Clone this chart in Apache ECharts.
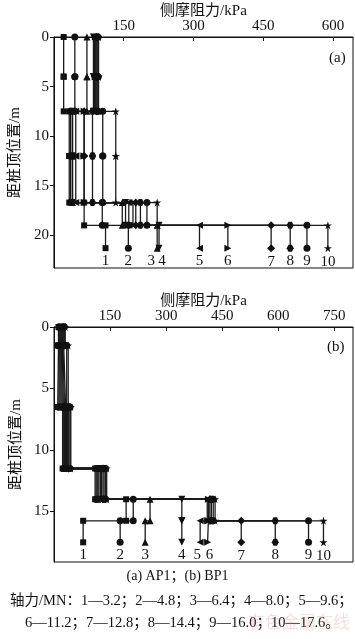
<!DOCTYPE html>
<html><head><meta charset="utf-8">
<script src="https://cdn.jsdelivr.net/npm/echarts@6/dist/echarts.min.js"></script>
<style>html,body{margin:0;padding:0;background:#fff}#c{width:355px;height:639px}</style>
</head><body><div id="c"></div>
<script>
// ---- data ----
const loadIds = ['1','2','3','4','5','6','7','8','9','10'];
const axialForceMN = ['3.2','4.8','6.4','8.0','9.6','11.2','12.8','14.4','16.0','17.6'];
const xTicksA = [150, 300, 450, 600];
const xTicksB = [150, 300, 450, 600, 750];
const yTicksA = [0, 5, 10, 15, 20];
const yTicksB = [0, 5, 10, 15];
// (a) AP1: section depths (m) and skin friction (kPa) per segment, loads 1..10
const depthA = [0, 4, 7.5, 12, 16.7, 19, 21.3];
const A_seg1 = [21, 45, 71, 85, 87, 89, 91, 93, 95, 96];
const A_seg2 = [21, 45, 71, 85, 87, 89, 91, 93, 95, 96];
const A_seg3 = [33, 36, 40, 40, 47, 65, 65, 83, 105, 133];
const A_seg4 = [33, 36, 40, 40, 47, 65, 65, 83, 105, 133];
const A_seg5 = [65, 104, 147, 154, 161, 170, 176, 186, 200, 222];
const A_seg6 = [111, 160, 222, 226, 313, 374, 467, 508, 544, 589];
// (b) BP1
const depthB = [0, 1.5, 6.5, 11.5, 14, 15.75, 17.5];
const B_seg1 = [12, 14, 16, 18, 20, 22, 24, 26, 28, 30];
const B_seg2 = [10, 13, 16, 19, 22, 25, 28, 31, 34, 38];
const B_seg3 = [23, 26, 28, 31, 33, 36, 38, 40, 43, 45];
const B_seg4 = [110, 113, 117, 120, 124, 127, 131, 134, 138, 141];
const B_seg5 = [193, 212, 257, 342, 410, 413, 417, 421, 426, 431];
const B_seg6 = [78, 177, 244, 342, 391, 411, 501, 592, 681, 721];

const segsA = [A_seg1, A_seg2, A_seg3, A_seg4, A_seg5, A_seg6];
const segsB = [B_seg1, B_seg2, B_seg3, B_seg4, B_seg5, B_seg6];
// small horizontal nudges for crowded end labels (px)
const labelShiftA = [0, 0, -6, 3, 0, 0, 0, 0, 0, 0];
const labelShiftB = [0, 0, 0, 0, -3, 2, 0, 0, 0, 0];

const symbols = [
  'rect', 'circle', 'triangle',
  'path://M0,0 L10,0 L5,9 Z',
  'path://M0,5 L9,0 L9,10 Z',
  'path://M0,0 L9,5 L0,10 Z',
  'diamond',
  'path://M2.5,0 L7.5,0 L10,4.33 L7.5,8.66 L2.5,8.66 L0,4.33 Z',
  'circle',
  'path://M5,0 L6.2,3.8 L10,3.8 L6.9,6.1 L8.1,10 L5,7.6 L1.9,10 L3.1,6.1 L0,3.8 L3.8,3.8 Z'
];
const symSizes = [6, 7, 7, 7, 7, 7, 8, 7, 7, 8];
const serif = '"Liberation Serif","Noto Sans CJK SC",serif';

function buildSeries(segs, depth, gridIdx, shifts) {
  const out = [];
  for (let i = 0; i < loadIds.length; i++) {
    const pts = [];
    for (let k = 0; k < segs.length; k++) {
      pts.push({value: [segs[k][i], depth[k]]});
      pts.push({value: [segs[k][i], depth[k + 1]]});
    }
    pts[pts.length - 1].label = {
      show: true, formatter: loadIds[i], position: 'bottom', distance: 2,
      offset: [shifts[i], 0],
      fontFamily: serif, fontSize: 15, color: '#111'
    };
    out.push({
      type: 'line', xAxisIndex: gridIdx, yAxisIndex: gridIdx,
      data: pts, symbol: symbols[i], symbolSize: symSizes[i], showSymbol: true,
      showAllSymbol: true, animation: false, silent: true,
      lineStyle: {color: '#1a1a1a', width: 1.3},
      itemStyle: {color: '#111', borderWidth: 0}
    });
  }
  return out;
}

function xAxisDef(gridIdx, max, ticks) {
  return {
    gridIndex: gridIdx, type: 'value', position: 'top', min: 0, max: max, interval: 150,
    name: '侧摩阻力/kPa', nameLocation: 'middle', nameGap: 15,
    nameTextStyle: {fontFamily: serif, fontSize: 15, color: '#111'},
    axisLine: {show: true, lineStyle: {color: '#111', width: 1}},
    axisTick: {show: true, inside: true, length: 4, lineStyle: {color: '#111'}},
    axisLabel: {fontFamily: serif, fontSize: 15, color: '#111', margin: 3,
      showMinLabel: false, showMaxLabel: false,
      formatter: v => ticks.indexOf(v) >= 0 ? String(v) : ''},
    splitLine: {show: false}
  };
}
function yAxisDef(gridIdx, max, ticks) {
  return {
    gridIndex: gridIdx, type: 'value', inverse: true, min: 0, max: max, interval: 5,
    name: '距桩顶位置/m', nameLocation: 'middle', nameGap: 27,
    nameTextStyle: {fontFamily: serif, fontSize: 15, color: '#111'},
    axisLine: {show: true, lineStyle: {color: '#111', width: 1}},
    axisTick: {show: true, inside: false, length: 4, lineStyle: {color: '#111'}},
    axisLabel: {fontFamily: serif, fontSize: 15, color: '#111', margin: 5,
      showMaxLabel: false,
      formatter: v => ticks.indexOf(v) >= 0 ? String(v) : ''},
    splitLine: {show: false}
  };
}

const chart = echarts.init(document.getElementById('c'), null, {renderer: 'canvas'});
chart.setOption({
  animation: false,
  backgroundColor: '#fff',
  grid: [
    {left: 53, top: 37, width: 300, height: 231, show: true, borderColor: '#111', borderWidth: 1, backgroundColor: 'transparent'},
    {left: 54, top: 327, width: 299, height: 235, show: true, borderColor: '#111', borderWidth: 1, backgroundColor: 'transparent'}
  ],
  xAxis: [xAxisDef(0, 643, xTicksA), xAxisDef(1, 800, xTicksB)],
  yAxis: [yAxisDef(0, 23.3, yTicksA), yAxisDef(1, 19.1, yTicksB)],
  series: buildSeries(segsA, depthA, 0, labelShiftA).concat(buildSeries(segsB, depthB, 1, labelShiftB)),
  graphic: [
    {type: 'text', left: 329, top: 51, style: {text: '(a)', font: '15px ' + serif, fill: '#111'}},
    {type: 'text', left: 327, top: 340, style: {text: '(b)', font: '15px ' + serif, fill: '#111'}},
    {type: 'text', left: 'center', top: 569, style: {text: '(a) AP1；(b) BP1', font: '14px ' + serif, fill: '#111'}},
    {type: 'text', left: 10, top: 594, style: {
      text: '轴力/MN：' + loadIds.slice(0,5).map((d,i)=>d+'—'+axialForceMN[i]).join('；') + '；',
      font: '14.5px ' + serif, fill: '#111'}},
    {type: 'text', left: 25, top: 616, style: {
      text: loadIds.slice(5).map((d,i)=>d+'—'+axialForceMN[i+5]).join('；') + '。',
      font: '14.5px ' + serif, fill: '#111'}},
    {type: 'text', left: 248, top: 613, style: {text: '有色金属在线', font: '17px "Noto Sans CJK SC"', fill: 'rgba(230,120,120,0.25)'}}
  ]
});
</script></body></html>
